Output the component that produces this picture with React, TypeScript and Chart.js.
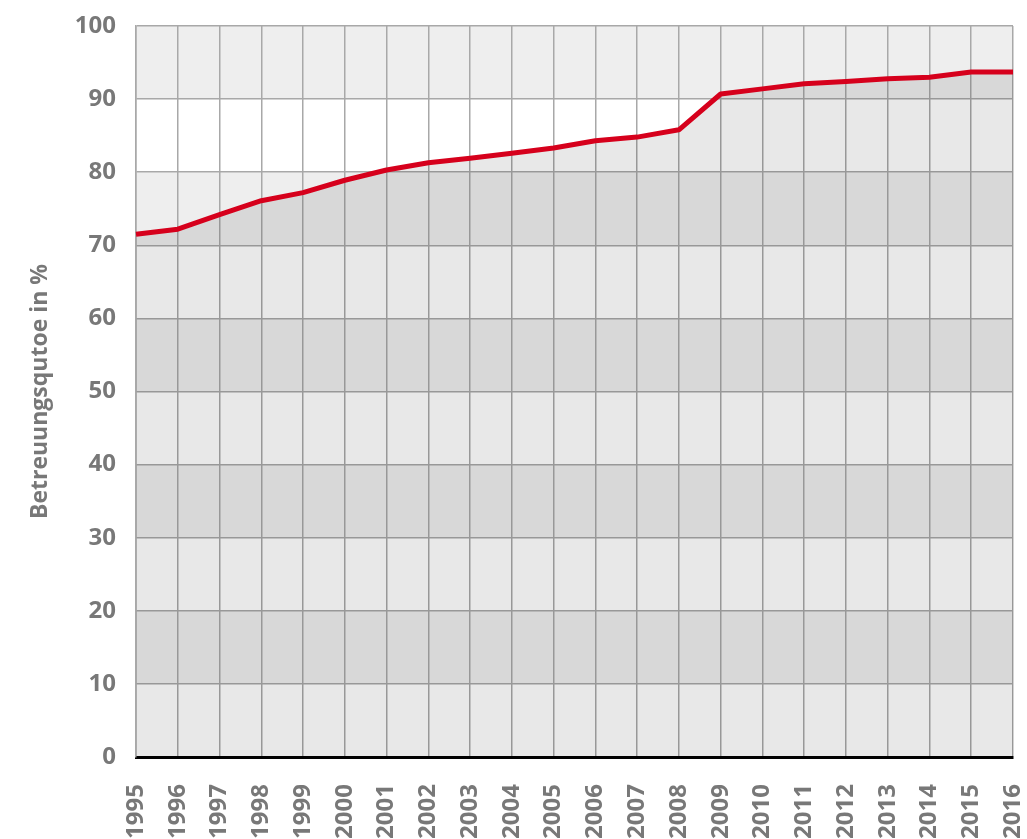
import React, { useEffect, useRef } from "react";
import { Chart, registerables } from "chart.js";

Chart.register(...registerables);

const years = ["1995","1996","1997","1998","1999","2000","2001","2002","2003","2004","2005","2006","2007","2008","2009","2010","2011","2012","2013","2014","2015","2016"];
const quote = [71.5,72.2,74.2,76.1,77.2,78.9,80.3,81.3,81.9,82.6,83.3,84.3,84.8,85.8,90.7,91.4,92.1,92.4,92.8,93.0,93.7,93.7];
const yTicks = [0,10,20,30,40,50,60,70,80,90,100];
const yTitle = "Betreuungsqutoe in %";

const GRAY_TEXT = "#787878";
const GRID = "#a8a8a8";

const bandPlugin = {
  id: "bands",
  beforeDraw(chart: any) {
    const { ctx, chartArea, scales } = chart;
    const y = scales.y;
    ctx.save();
    for (let i = 0; i < yTicks.length - 1; i++) {
      const v0 = yTicks[i];
      const v1 = yTicks[i + 1];
      const p0 = y.getPixelForValue(v0);
      const p1 = y.getPixelForValue(v1);
      ctx.fillStyle = i % 2 === 0 ? "#ffffff" : "#eeeeee";
      ctx.fillRect(chartArea.left, p1, chartArea.right - chartArea.left, p0 - p1);
    }
    ctx.restore();
  },
};

export default function App() {
  const ref = useRef<HTMLCanvasElement | null>(null);
  useEffect(() => {
    if (!ref.current) return;
    const chart = new Chart(ref.current, {
      type: "line",
      data: {
        labels: years,
        datasets: [
          {
            data: quote,
            borderColor: "#d6001c",
            borderWidth: 5,
            backgroundColor: "rgba(0,0,0,0.09)",
            fill: "origin",
            tension: 0,
            pointRadius: 0,
            borderJoinStyle: "round",
          },
        ],
      },
      options: {
        animation: false,
        responsive: false,
        maintainAspectRatio: false,
        layout: { padding: { left: 0, right: 14, top: 26, bottom: 0 } },
        plugins: { legend: { display: false }, tooltip: { enabled: false } },
        scales: {
          x: {
            type: "category",
            offset: false,
            grid: { color: GRID, lineWidth: 1.5, drawTicks: false },
            border: { color: "#000000", width: 3 },
            ticks: {
              autoSkip: false,
              maxRotation: 90,
              minRotation: 90,
              padding: 27,
              color: GRAY_TEXT,
              font: { family: "Open Sans", weight: "bold", size: 24 },
            },
            afterFit(scale: any) {
              scale.height = 82;
              scale.paddingLeft = 0;
              scale.paddingRight = 0;
            },
          },
          y: {
            min: 0,
            max: 100,
            grid: { color: GRID, lineWidth: 1.5, drawTicks: false },
            border: { color: GRID, width: 1.5 },
            ticks: {
              stepSize: 10,
              padding: 20,
              color: GRAY_TEXT,
              font: { family: "Open Sans", weight: "bold", size: 24 },
            },
            title: {
              display: true,
              text: yTitle,
              color: GRAY_TEXT,
              font: { family: "Open Sans", weight: "bold", size: 23 },
              padding: { top: 27, bottom: 0 },
            },
            afterFit(scale: any) {
              scale.width = 136;
              scale.paddingTop = 0;
              scale.paddingBottom = 0;
            },
          },
        },
      },
      plugins: [bandPlugin],
    } as any);
    return () => chart.destroy();
  }, []);
  return (
    <div style={{ position: "fixed", left: 0, top: 0, width: 1027, height: 839, background: "#fff" }}>
      <canvas ref={ref} width={1027} height={839} style={{ display: "block" }} />
    </div>
  );
}
